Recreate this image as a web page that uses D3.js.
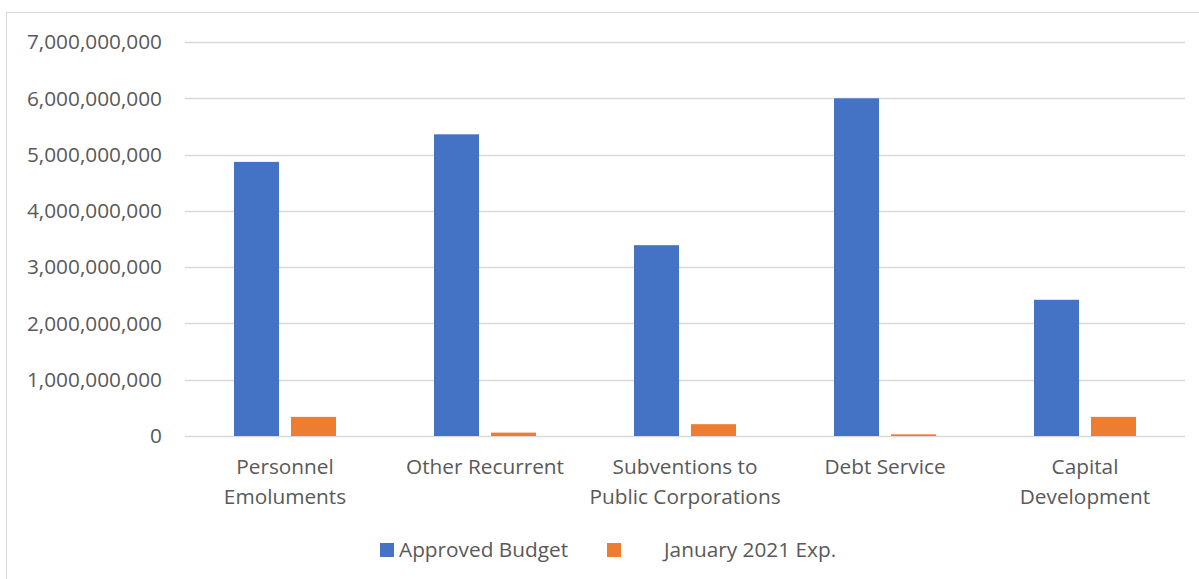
<!DOCTYPE html>
<html>
<head>
<meta charset="utf-8">
<script src="https://cdn.jsdelivr.net/npm/d3@7"></script>
<style>
  body { margin: 0; background: #fff; }
  text { font-family: "Open Sans", "Noto Sans", sans-serif; fill: #595959; }
</style>
</head>
<body>
<svg id="chart"></svg>
<script>
var categories = [["Personnel", "Emoluments"], ["Other Recurrent"], ["Subventions to", "Public Corporations"], ["Debt Service"], ["Capital", "Development"]]
var approvedBudget = [4870000000, 5360000000, 3390000000, 6000000000, 2420000000]
var janExp = [340000000, 60000000, 210000000, 30000000, 340000000]
var seriesNames = ["Approved Budget", "January 2021 Exp."]
var seriesColors = ["#4472c4", "#ed7d31"]
var yTicks = [0, 1000000000, 2000000000, 3000000000, 4000000000, 5000000000, 6000000000, 7000000000]

var width = 1199
var height = 579
var margins = {top: 42, left: 185, right: 14, bottom: 143}
var fontSize = "20.8px"

var svg = d3.select("#chart")
    .attr("width", width)
    .attr("height", height)

// outer chart border
svg.append("rect")
    .attr("x", 6.5)
    .attr("y", 12.5)
    .attr("width", width + 10)
    .attr("height", height + 10)
    .attr("fill", "none")
    .attr("stroke", "#d9d9d9")

var xScale = d3.scaleBand()
    .domain(d3.range(categories.length))
    .range([margins.left, width - margins.right])

var yScale = d3.scaleLinear()
    .domain([0, 7000000000])
    .range([height - margins.bottom, margins.top])

// gridlines
svg.append("g")
    .selectAll("line")
    .data(yTicks)
    .enter()
    .append("line")
    .attr("x1", margins.left)
    .attr("x2", width - margins.right)
    .attr("y1", function(d) { return Math.round(yScale(d)) + 0.5 })
    .attr("y2", function(d) { return Math.round(yScale(d)) + 0.5 })
    .attr("stroke", "#d9d9d9")
    .attr("stroke-width", 1.5)

// y labels
var fmt = d3.format(",")
svg.append("g")
    .selectAll("text")
    .data(yTicks)
    .enter()
    .append("text")
    .attr("x", 162)
    .attr("y", function(d) { return yScale(d) })
    .attr("dy", "0.35em")
    .attr("text-anchor", "end")
    .style("font-size", fontSize)
    .text(function(d) { return fmt(d) })

// bars
var barW = 45
var gap = 12
var series = [approvedBudget, janExp]
series.forEach(function(values, si)
{
    svg.append("g")
        .selectAll("rect")
        .data(values)
        .enter()
        .append("rect")
        .attr("x", function(d, i)
        {
            var c = xScale(i) + xScale.bandwidth() / 2
            return si == 0 ? c - gap / 2 - barW : c + gap / 2
        })
        .attr("y", function(d) { return yScale(d) })
        .attr("width", barW)
        .attr("height", function(d) { return yScale(0) - yScale(d) })
        .attr("fill", seriesColors[si])
})

// category labels
var catLabels = svg.append("g")
    .selectAll("text")
    .data(categories)
    .enter()
    .append("text")
    .attr("text-anchor", "middle")
    .style("font-size", fontSize)
    .attr("x", function(d, i) { return xScale(i) + xScale.bandwidth() / 2 })
    .attr("y", 474)

catLabels.selectAll("tspan")
    .data(function(d) { return d })
    .enter()
    .append("tspan")
    .attr("x", function() { return d3.select(this.parentNode).attr("x") })
    .attr("dy", function(d, i) { return i == 0 ? 0 : 30 })
    .text(function(d) { return d })

// legend
var legendItems = [{sx: 380, tx: 399}, {sx: 607, tx: 664}]
legendItems.forEach(function(item, i)
{
    svg.append("rect")
        .attr("x", item.sx)
        .attr("y", 543)
        .attr("width", 14)
        .attr("height", 14)
        .attr("fill", seriesColors[i])
    svg.append("text")
        .attr("x", item.tx)
        .attr("y", 550)
        .attr("dy", "0.35em")
        .style("font-size", fontSize)
        .text(seriesNames[i])
})
</script>
</body>
</html>
